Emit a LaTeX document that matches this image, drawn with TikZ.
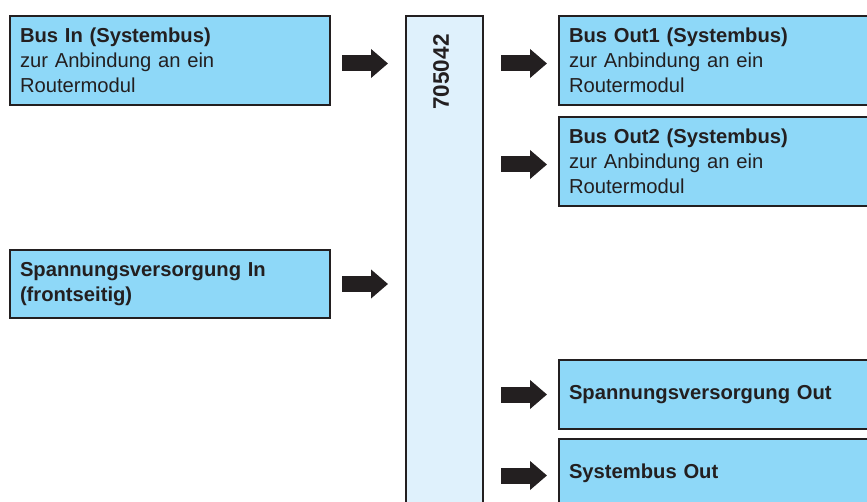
\documentclass[tikz,border=0pt]{standalone}
\usepackage{fontspec}
\setmainfont{Liberation Sans}
\usetikzlibrary{arrows.meta}
\definecolor{boxblue}{HTML}{8ED8F8}
\definecolor{barblue}{HTML}{DFF1FC}
\definecolor{ink}{HTML}{231F20}

\begin{document}
\begin{tikzpicture}[x=1pt, y=-1pt,
    box/.style={draw=ink, fill=boxblue, line width=2pt, minimum width=320pt,
      text width=300pt, align=left, inner sep=10pt, anchor=north west,
      text=ink, font=\fontsize{20.2}{25}\selectfont},
    blockarrow/.style={draw=ink, line width=16pt,
      -{Triangle[width=28pt, length=17pt]}}]
    \useasboundingbox (0, 0) rectangle (867, 502);
    \clip (0, 0) rectangle (867, 502);
    % device
    \node [draw=ink, fill=barblue, line width=2pt, minimum width=77pt,
      minimum height=520pt, anchor=north west] (device) at (405, 15) {};
    \node [rotate=90, text=ink, font=\bfseries\fontsize{22.5}{22.5}\selectfont]
      (devname) at (441, 72) {705042};
    % inputs
    \node [box, minimum height=89pt] (busin) at (9, 15)
      {\textbf{Bus In (Systembus)}\\zur Anbindung an ein\\Routermodul};
    \node [box, minimum height=68pt] (powerin) at (9, 249)
      {\textbf{Spannungsversorgung In}\\\textbf{(frontseitig)}};
    % outputs
    \node [box, minimum height=89pt] (busoutone) at (558, 15)
      {\textbf{Bus Out1 (Systembus)}\\zur Anbindung an ein\\Routermodul};
    \node [box, minimum height=89pt] (busouttwo) at (558, 116)
      {\textbf{Bus Out2 (Systembus)}\\zur Anbindung an ein\\Routermodul};
    \node [box, minimum height=69pt] (powerout) at (558, 359)
      {\textbf{Spannungsversorgung Out}};
    \node [box, minimum height=69pt] (sysbusout) at (558, 438)
      {\textbf{Systembus Out}};
    % arrows
    \draw [blockarrow, shorten <=11pt, shorten >=17pt]
      ([yshift=-3pt]busin.east) -- ([yshift=-3pt]busin.east -| device.west);
    \draw [blockarrow, shorten <=11pt, shorten >=17pt]
      (powerin.east) -- (powerin.east -| device.west);
    \draw [blockarrow, shorten <=17pt, shorten >=11pt]
      ([yshift=-3pt]busoutone.west -| device.east) -- ([yshift=-3pt]busoutone.west);
    \draw [blockarrow, shorten <=17pt, shorten >=11pt]
      ([yshift=-3pt]busouttwo.west -| device.east) -- ([yshift=-3pt]busouttwo.west);
    \draw [blockarrow, shorten <=17pt, shorten >=11pt]
      (powerout.west -| device.east) -- (powerout.west);
    \draw [blockarrow, shorten <=17pt, shorten >=11pt]
      ([yshift=-2pt]sysbusout.west -| device.east) -- ([yshift=-2pt]sysbusout.west);
  \end{tikzpicture}
\end{document}
